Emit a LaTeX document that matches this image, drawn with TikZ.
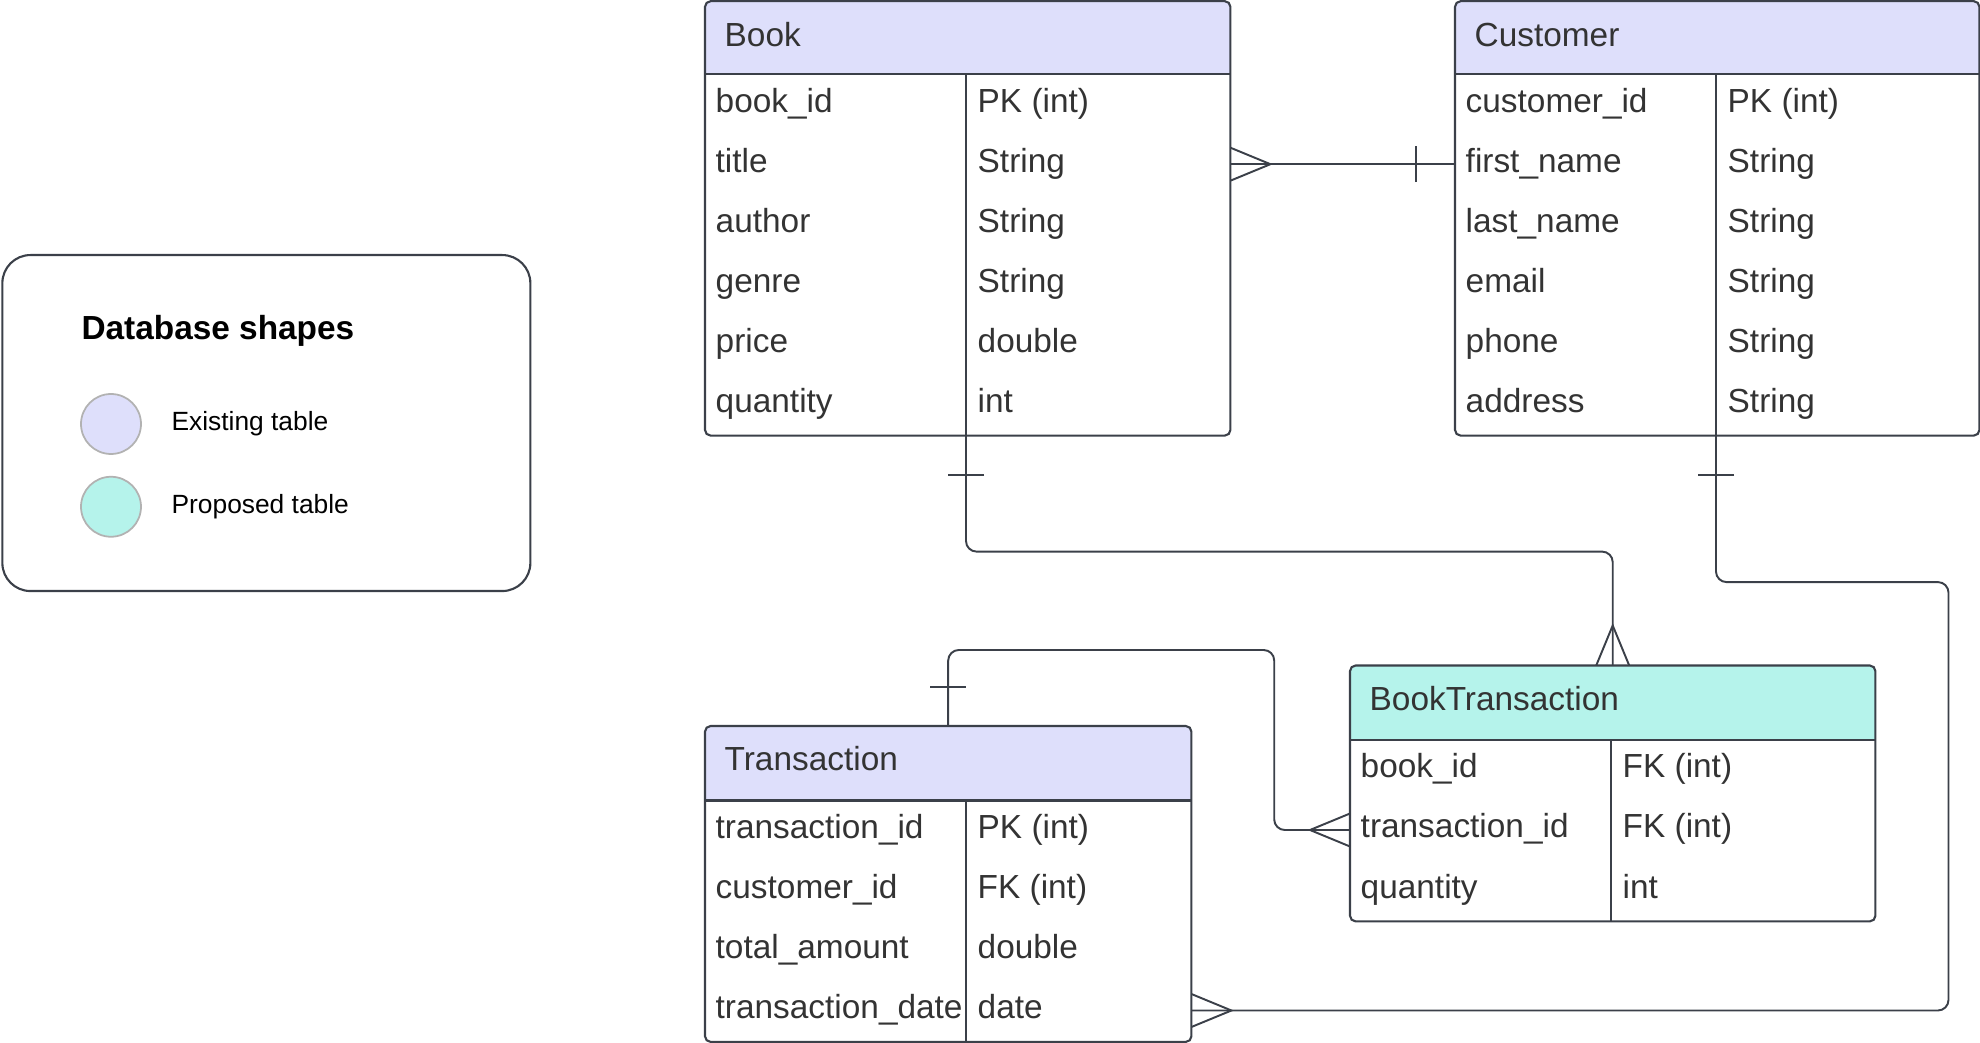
\documentclass[tikz,border=0pt]{standalone}
\usepackage{fontspec}
\setmainfont{Liberation Sans}
\usetikzlibrary{positioning}

\definecolor{existfill}{HTML}{DEDFFB}
\definecolor{propfill}{HTML}{B5F3EB}
\definecolor{edgegray}{HTML}{3B4049}
\definecolor{inkgray}{HTML}{333333}

\tikzset{
  tablebox/.style={draw=edgegray, line width=0.6pt, rounded corners=1.6pt},
  tableline/.style={draw=edgegray, line width=0.6pt},
  conn/.style={draw=edgegray, line width=0.55pt},
  cell/.style={inner sep=0pt, text=inkgray, font=\fontsize{9.5pt}{11pt}\selectfont},
  legendtext/.style={inner sep=0pt, font=\fontsize{7.5pt}{9pt}\selectfont},
  swatch/.style={circle, draw=black!30, line width=0.5pt, minimum size=0.6cm, inner sep=0pt},
  many/.pic={\draw[conn] (0,0.165) -- (0.4,0) -- (0,-0.165);},
  one/.pic={\draw[conn] (0.39,0.18) -- (0.39,-0.18);}
}

% table: name, top left, width, header height, rows, fill, title, fields
\newcommand{\erdtable}[8]{%
  \path (#2) node[anchor=north west, inner sep=0pt, minimum width=#3cm, minimum height=#5*0.6cm+#4cm] (#1) {};
  \begin{scope}
    \clip[rounded corners=1.6pt] (#1.north west) rectangle (#1.south east);
    \fill[#6] (#1.north west) rectangle ([yshift=-#4cm]#1.north east);
  \end{scope}
  \draw[tableline] ([yshift=-#4cm]#1.north west) -- ([yshift=-#4cm]#1.north east);
  \coordinate (#1-split) at ([xshift=2.61cm]#1.south west);
  \draw[tableline] ([xshift=2.61cm,yshift=-#4cm]#1.north west) -- (#1-split);
  \draw[tablebox] (#1.north west) rectangle (#1.south east);
  \node[cell, anchor=base west] (#1-title) at ([xshift=0.19cm,yshift=-0.45cm]#1.north west) {#7};
  \foreach \fname/\ftype [count=\i] in {#8} {
    \coordinate (#1-r\i) at ([yshift=-#4cm+0.3cm-\i*0.6cm]#1.north west);
    \node[cell, anchor=base west] (#1-f\i) at ([xshift=0.1cm,yshift=-0.08cm]#1-r\i) {\fname};
    \node[cell, anchor=base west] (#1-t\i) at ([xshift=2.72cm,yshift=-0.08cm]#1-r\i) {\ftype};
  }%
}

\begin{document}
\begin{tikzpicture}
  \useasboundingbox (0,0) rectangle (19.80,-10.43);

  % legend
  \node[draw=edgegray, line width=0.6pt, rounded corners=8pt, minimum width=5.28cm, minimum height=3.36cm, anchor=north west] (legend) at (0.013,-2.54) {};
  \node[anchor=west, inner sep=0pt, font=\bfseries\fontsize{9.5pt}{11pt}\selectfont] (legtitle) at (0.808,-3.31) {Database shapes};
  \node[swatch, fill=existfill] (exsw) at (1.11,-4.24) {};
  \node[swatch, fill=propfill, below=0.21cm of exsw] (prsw) {};
  \node[legendtext, right=0.29cm of exsw] (extext) {Existing table};
  \node[legendtext, right=0.29cm of prsw] (prtext) {Proposed table};

  % tables
  \erdtable{book}{7.05,-0.012}{5.24}{0.73}{6}{existfill}{Book}{book\_id/PK (int), title/String, author/String, genre/String, price/double, quantity/int}
  \erdtable{cust}{14.55,-0.012}{5.23}{0.73}{6}{existfill}{Customer}{customer\_id/PK (int), first\_name/String, last\_name/String, email/String, phone/String, address/String}
  \erdtable{bt}{13.50,-6.655}{5.24}{0.745}{3}{propfill}{BookTransaction}{book\_id/FK (int), transaction\_id/FK (int), quantity/int}
  \erdtable{trans}{7.05,-7.26}{4.85}{0.745}{4}{existfill}{Transaction}{transaction\_id/PK (int), customer\_id/FK (int), total\_amount/double, transaction\_date/date}

  % book -- customer
  \draw[conn] (book.east |- book-r2) -- (cust.west |- book-r2);
  \pic at (book.east |- book-r2) {many};
  \pic[rotate=180] at (cust.west |- book-r2) {one};

  % book -- booktransaction
  \draw[conn, rounded corners=3pt] (book-split) -- ++(0,-1.16) -| (bt.north);
  \pic[rotate=-90] at (book-split) {one};
  \pic[rotate=90] at (bt.north) {many};

  % customer -- transaction
  \draw[conn, rounded corners=3pt] (cust-split) -- ++(0,-1.465) -- ++(2.325,0) |- (trans.east |- trans-r4);
  \pic[rotate=-90] at (cust-split) {one};
  \pic at (trans.east |- trans-r4) {many};

  % transaction -- booktransaction
  \draw[conn, rounded corners=3pt] (trans.north) -- ++(0,0.76) -- ++(3.26,0) |- (bt.west |- bt-r2);
  \pic[rotate=90] at (trans.north) {one};
  \pic[rotate=180] at (bt.west |- bt-r2) {many};
\end{tikzpicture}
\end{document}
